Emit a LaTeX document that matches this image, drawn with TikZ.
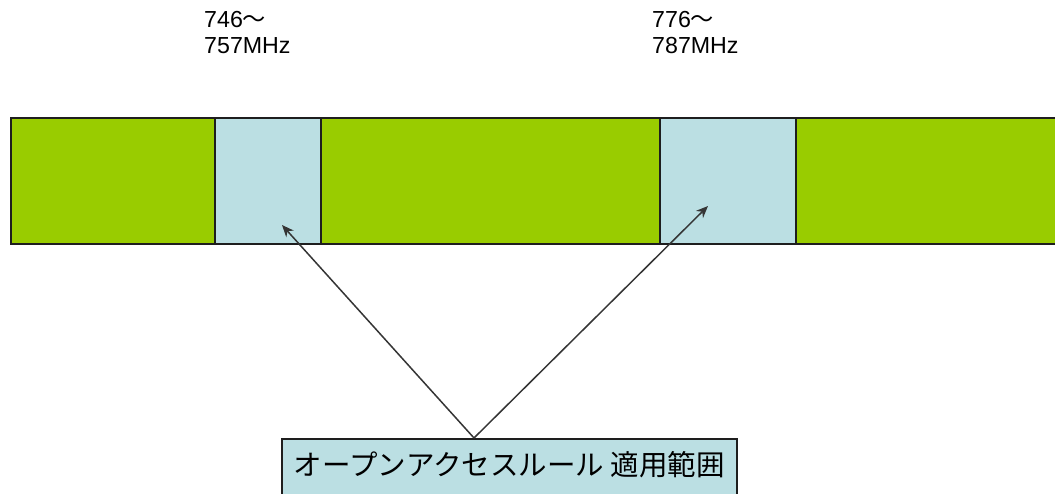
\documentclass[tikz,border=0pt]{standalone}
\usepackage{fontspec}
\setmainfont{Liberation Sans}
\newfontfamily\cjk{Noto Sans CJK JP}
\usetikzlibrary{arrows.meta}
\definecolor{bandgreen}{RGB}{153,204,0}
\definecolor{bandblue}{RGB}{187,223,227}
\definecolor{edge}{RGB}{30,30,30}
\tikzset{
  seg/.style={draw=edge, line width=1.6pt, anchor=north west, minimum height=126pt, inner sep=0pt},
  greenseg/.style={seg, fill=bandgreen},
  blueseg/.style={seg, fill=bandblue},
  freq/.style={anchor=north west, align=left, inner sep=0pt, font=\fontsize{23.2}{26}\selectfont},
  arr/.style={draw=edge!90!white, line width=1.5pt, -{Stealth[length=12pt,width=10pt]}},
  rulebox/.style={draw=edge, line width=1.6pt, fill=bandblue, anchor=north west, minimum width=455pt, minimum height=62pt, inner sep=0pt, text height=23pt, text depth=11pt, font=\cjk\fontsize{28.5}{32}\selectfont}
}
\begin{document}
\begin{tikzpicture}[x=1pt,y=-1pt]
\useasboundingbox (0,0) rectangle (1055,493);
\clip (0,0) rectangle (1055,493);
\node[greenseg, minimum width=204pt] (g1) at (10,117) {};
\node[blueseg, minimum width=106pt] (b1) at (214,117) {};
\node[greenseg, minimum width=339pt] (g2) at (320,117) {};
\node[blueseg, minimum width=136pt] (b2) at (659,117) {};
\node[greenseg, minimum width=270pt] (g3) at (795,117) {};
\node[freq] (f1) at (204,11) {746{\cjk ～}\\757MHz};
\node[freq] (f2) at (652,11) {776{\cjk ～}\\787MHz};
\node[rulebox] (rule) at (281,438) {オープンアクセスルール 適用範囲};
\coordinate (src) at (474,438);
\coordinate (t1) at (282,225);
\coordinate (t2) at (708,206);
\draw[arr] (src) -- (t1);
\draw[arr] (src) -- (t2);
\end{tikzpicture}
\end{document}
